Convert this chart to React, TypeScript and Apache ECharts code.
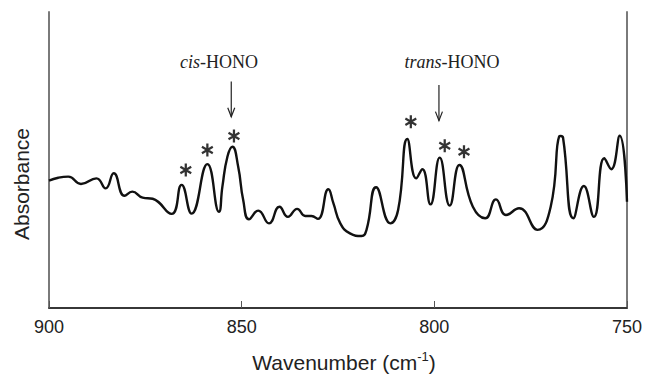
import React, { useEffect, useRef } from "react";
import * as echarts from "echarts";

// Spectrum (wavenumber in cm-1, absorbance in arbitrary units)
const wavenumbers = [
  900.0, 897.6, 895.0, 891.7, 887.7, 885.3, 883.2, 880.4, 878.4, 875.7, 873.1,
  868.2, 865.6, 863.0, 858.9, 855.9, 855.0, 853.7, 852.4, 850.9, 849.6, 848.1,
  845.7, 842.9, 840.2, 838.0, 835.6, 833.5, 831.9, 830.2, 827.5, 826.2, 824.4,
  821.9, 818.9, 817.6, 815.1, 811.4, 809.4, 807.0, 804.7, 803.1, 801.0, 798.6,
  796.0, 793.5, 790.0, 786.8, 784.0, 781.4, 778.0, 773.2, 769.8, 767.6, 767.2,
  766.6, 763.9, 761.2, 758.6, 755.9, 754.1, 751.9, 750.0,
];
const absorbance = [
  43.0, 44.0, 44.4, 41.9, 43.8, 40.4, 45.5, 37.9, 39.3, 37.3, 36.9,
  31.8, 41.6, 31.9, 48.6, 32.5, 41.0, 51.1, 54.5, 47.7, 36.5, 30.0,
  32.9, 28.6, 34.2, 30.8, 33.5, 31.1, 31.1, 30.1, 40.1, 35.4, 28.6,
  25.2, 24.3, 26.4, 40.8, 28.6, 33.1, 57.1, 43.8, 46.9, 35.0, 50.8,
  34.6, 48.3, 34.2, 30.3, 36.7, 31.4, 33.7, 26.4, 34.2, 58.0, 58.1,
  57.6, 30.3, 41.2, 30.8, 50.6, 46.9, 58.2, 35.9,
];
const xTicks = [900, 850, 800, 750];

// Asterisk markers (centres)
const starWn = [864.5, 858.9, 852.0, 806.1, 797.3, 792.3];
const starAbs = [46.6, 53.4, 58.1, 62.9, 54.8, 52.8];

// Labelled bands: italic prefix, rest, label centre and arrow
const bandPrefix = ["cis", "trans"];
const bandSuffix = ["-HONO", "-HONO"];
const bandLabelWn = [855.9, 795.4];
const bandLabelAbs = [83.1, 83.1];
const arrowWn = [852.7, 798.8];
const arrowTop = [76.5, 75.3];
const arrowTip = [64.6, 63.3];

const FONT = "Liberation Sans, Arial, Helvetica, sans-serif";
const SERIF = "Liberation Serif, Times New Roman, serif";

const STAR_PATH =
  "path://M41 0L59 0L59 100L41 100Z" +
  "M11.2 17.2L97.8 67.2L88.8 82.8L2.2 32.8Z" +
  "M2.2 67.2L88.8 17.2L97.8 32.8L11.2 82.8Z";

export default function App() {
  const ref = useRef<HTMLDivElement>(null);
  useEffect(() => {
    if (!ref.current) return;
    const chart = echarts.init(ref.current, null, { renderer: "svg" });
    const pts = wavenumbers.map((w, i) => [w, absorbance[i]]);
    chart.setOption({
      animation: false,
      grid: { left: 49, right: 15, top: 12, bottom: 66 },
      xAxis: [
        {
          type: "value",
          min: 750,
          max: 900,
          interval: 50,
          inverse: true,
          axisLine: { show: true, lineStyle: { color: "#7a7a7a", width: 2 } },
          axisTick: { show: true, inside: true, length: 7, lineStyle: { color: "#555", width: 1 } },
          axisLabel: {
            fontSize: 18,
            fontFamily: FONT,
            color: "#222",
            margin: 10,
            formatter: (v: number) => (xTicks.includes(v) ? String(v) : ""),
          },
          splitLine: { show: false },
        },
        {
          type: "value",
          position: "top",
          min: 750,
          max: 900,
          inverse: true,
          axisLine: { show: true, lineStyle: { color: "#222", width: 1.5 } },
          axisTick: { show: false },
          axisLabel: { show: false },
          splitLine: { show: false },
        },
      ],
      yAxis: [
        {
          type: "value",
          min: 0,
          max: 100,
          axisLine: { show: true, lineStyle: { color: "#7a7a7a", width: 2 } },
          axisTick: { show: false },
          axisLabel: { show: false },
          splitLine: { show: false },
        },
        {
          type: "value",
          position: "right",
          min: 0,
          max: 100,
          axisLine: { show: true, lineStyle: { color: "#7a7a7a", width: 2 } },
          axisTick: { show: false },
          axisLabel: { show: false },
          splitLine: { show: false },
        },
      ],
      series: [
        {
          type: "line",
          data: pts,
          smooth: 0.5,
          symbol: "none",
          lineStyle: { color: "#111", width: 2.4 },
          clip: true,
        },
        {
          type: "scatter",
          data: starWn.map((w, i) => [w, starAbs[i]]),
          symbol: STAR_PATH,
          symbolSize: [12, 13],
          itemStyle: { color: "#000" },
        },
      ],
    });

    const toPx = (x: number, y: number) =>
      chart.convertToPixel({ seriesIndex: 0 }, [x, y]) as number[];

    const graphics: any[] = [];
    bandPrefix.forEach((p, i) => {
      const c = toPx(bandLabelWn[i], bandLabelAbs[i]);
      graphics.push({
        type: "text",
        x: c[0],
        y: c[1],
        style: {
          text: `{i|${p}}{n|${bandSuffix[i]}}`,
          align: "center",
          verticalAlign: "middle",
          rich: {
            i: { fontFamily: SERIF, fontStyle: "italic", fontSize: 18, fill: "#222" },
            n: { fontFamily: SERIF, fontSize: 18, fill: "#222" },
          },
        },
      });
      const a = toPx(arrowWn[i], arrowTop[i]);
      const b = toPx(arrowWn[i], arrowTip[i]);
      graphics.push({
        type: "line",
        shape: { x1: a[0], y1: a[1], x2: b[0], y2: b[1] },
        style: { stroke: "#222", lineWidth: 1.2 },
      });
      graphics.push({
        type: "polyline",
        shape: { points: [[b[0] - 3.5, b[1] - 9], [b[0], b[1]], [b[0] + 3.5, b[1] - 9]] },
        style: { stroke: "#222", lineWidth: 1.2, fill: "none" },
      });
    });
    graphics.push({
      type: "text",
      x: 344,
      y: 362,
      style: {
        text: "{a|Wavenumber (cm}{s|-1}{a|)}",
        align: "center",
        verticalAlign: "middle",
        rich: {
          a: { fontFamily: FONT, fontSize: 21, fill: "#222", lineHeight: 24 },
          s: { fontFamily: FONT, fontSize: 13, fill: "#222", verticalAlign: "top", lineHeight: 24 },
        },
      },
    });
    graphics.push({
      type: "text",
      x: 21,
      y: 184,
      rotation: Math.PI / 2,
      style: {
        text: "Absorbance",
        align: "center",
        verticalAlign: "middle",
        fontFamily: FONT,
        fontSize: 21,
        fill: "#222",
      },
    });
    chart.setOption({ graphic: graphics });
    return () => chart.dispose();
  }, []);
  return (
    <div
      ref={ref}
      style={{ position: "absolute", left: 0, top: 0, width: 645, height: 374 }}
    />
  );
}
